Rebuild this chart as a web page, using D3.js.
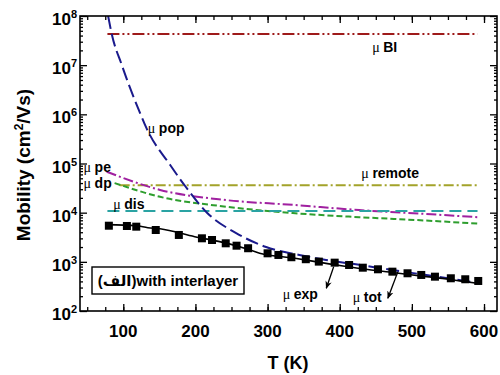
<!DOCTYPE html>
<html>
<head>
<meta charset="utf-8">
<script src="https://cdn.jsdelivr.net/npm/d3@7"></script>
<style>
  body { margin: 0; background: #fff; }
  text { font-family: "Liberation Sans", Arial, "DejaVu Sans", sans-serif; font-weight: bold; fill: #000; }
</style>
</head>
<body>
<div id="chart"></div>
<script>
////////////////////////////// data //////////////////////////////
// experimental points (squares)
var T_exp  = [80,105,118,145,177,209,223,242,257,273,300,315,333,353,371,393,413,432,453,473,494,513,532,554,574,592];
var mu_exp = [5430,5360,5190,4440,3520,3010,2780,2380,2130,1890,1490,1380,1240,1130,1010,962,863,760,705,631,585,541,499,463,442,408];

// total (fit)
var T_tot  = [77,118,134,151,199,243,268,289,338,381,407,428,476,520,545,566,591];
var mu_tot = [5700,5400,4950,4700,3250,2400,1890,1500,1180,930,810,730,600,500,455,410,365];

// polar optical phonon
var T_pop  = [79,84,98,124,132,165,185,216,257,298,344,381,427,473,520,591];
var mu_pop = [1e8,4.3e7,1e7,1e6,5.3e5,9.3e4,3.6e4,1e4,3.8e3,2.0e3,1380,1090,870,680,540,375];

// piezoelectric / deformation potential
var T_pe  = [77,151,243,335,427,520,591];
var mu_pe = [6.8e4,2.9e4,1.8e4,1.44e4,1.13e4,9.4e3,8.1e3];
var T_dp  = [88,151,243,335,427,520,591];
var mu_dp = [4.0e4,2.1e4,1.32e4,9.8e3,8.1e3,6.9e3,6.0e3];

// temperature independent ones
var T_BI = [78,591],  mu_BI = [4.3e7,4.3e7];
var T_rem = [95,591], mu_rem = [3.6e4,3.6e4];
var T_dis = [78,591], mu_dis = [1.08e4,1.08e4];

var xTicks = [100,200,300,400,500,600];
var yTicks = [1e2,1e3,1e4,1e5,1e6,1e7,1e8];

// annotation anchors in data units [T, mu]
var labels = [
  {name:"BI",     T:445, mu:1.85e7},
  {name:"pop",    T:134, mu:4.2e5},
  {name:"remote", T:430, mu:5.1e4},
  {name:"pe",     T:45,  mu:6.7e4},
  {name:"dp",     T:45,  mu:3.2e4},
  {name:"dis",    T:86,  mu:1.19e4},
  {name:"exp",    T:321, mu:176},
  {name:"tot",    T:418, mu:152}
];
var arrows = [
  {T0:391.6, mu0:796, T1:381.4, mu1:290},
  {T0:480.6, mu0:631, T1:466.7, mu1:181}
];

////////////////////////////// setup //////////////////////////////
var W = 500, H = 375;
var pLeft = 80, pRight = 497, pTop = 16, pBottom = 311;

var svg = d3.select("#chart").append("svg")
  .attr("width", W).attr("height", H);

var x = d3.scaleLinear().domain([40, 618]).range([pLeft, pRight]);
var y = d3.scaleLog().domain([1e2, 1e8]).range([pBottom, pTop]);

var defs = svg.append("defs");
defs.append("clipPath").attr("id","clip")
  .append("rect").attr("x",pLeft).attr("y",pTop)
  .attr("width",pRight-pLeft).attr("height",pBottom-pTop);

defs.append("marker")
  .attr("id","arrow").attr("viewBox","0 0 10 10")
  .attr("refX",9).attr("refY",5)
  .attr("markerWidth",8).attr("markerHeight",8)
  .attr("markerUnits","userSpaceOnUse")
  .attr("orient","auto")
  .append("path").attr("d","M0,1 L10,5 L0,9 L3,5 Z").attr("fill","#000");

function zip(a, b) { return a.map(function(d,i){ return [d, b[i]]; }); }

var line = d3.line()
  .x(function(d){ return x(d[0]); })
  .y(function(d){ return y(d[1]); })
  .curve(d3.curveMonotoneX);

var series = [
  {T:T_BI,  mu:mu_BI,  color:"#9e1a1a", dash:"12,3,2,3,2,3", w:2},
  {T:T_rem, mu:mu_rem, color:"#a3a32a", dash:"10,3,2,3", w:2},
  {T:T_pe,  mu:mu_pe,  color:"#a020a0", dash:"10,3,2,3", w:2},
  {T:T_dp,  mu:mu_dp,  color:"#2e9e2e", dash:"6,3", w:2},
  {T:T_dis, mu:mu_dis, color:"#2aa3a3", dash:"12,6", w:2},
  {T:T_pop, mu:mu_pop, color:"#1a1a8c", dash:"13,5", w:2},
  {T:T_tot, mu:mu_tot, color:"#000", dash:null, w:1.6}
];

var plot = svg.append("g").attr("clip-path","url(#clip)");

plot.selectAll(".curve")
  .data(series)
  .enter()
  .append("path")
  .attr("class","curve")
  .attr("d", function(d){ return line(zip(d.T, d.mu)); })
  .attr("fill","none")
  .attr("stroke", function(d){ return d.color; })
  .attr("stroke-width", function(d){ return d.w; })
  .attr("stroke-dasharray", function(d){ return d.dash; });

// squares
plot.selectAll(".sq")
  .data(zip(T_exp, mu_exp))
  .enter()
  .append("rect")
  .attr("class","sq")
  .attr("x", function(d){ return x(d[0]) - 4; })
  .attr("y", function(d){ return y(d[1]) - 4; })
  .attr("width", 8).attr("height", 8)
  .attr("fill","#000");

////////////////////////////// axes //////////////////////////////
var xMinor = d3.range(50, 601, 25);

svg.append("g").attr("transform","translate(0,"+pBottom+")")
  .call(d3.axisBottom(x).tickValues(xMinor).tickSize(-4).tickFormat(""));
svg.append("g").attr("transform","translate(0,"+pBottom+")")
  .call(d3.axisBottom(x).tickValues(xTicks).tickSize(-7).tickFormat(""));
svg.append("g").attr("transform","translate(0,"+pTop+")")
  .call(d3.axisTop(x).tickValues(xMinor).tickSize(-4).tickFormat(""));
svg.append("g").attr("transform","translate(0,"+pTop+")")
  .call(d3.axisTop(x).tickValues(xTicks).tickSize(-7).tickFormat(""));

var yMinor = y.ticks().filter(function(d){ return yTicks.indexOf(d) < 0; });

svg.append("g").attr("transform","translate("+pLeft+",0)")
  .call(d3.axisLeft(y).tickValues(yMinor).tickSize(-3).tickFormat(""));
svg.append("g").attr("transform","translate("+pLeft+",0)")
  .call(d3.axisLeft(y).tickValues(yTicks).tickSize(-7).tickFormat(""));
svg.append("g").attr("transform","translate("+pRight+",0)")
  .call(d3.axisRight(y).tickValues(yMinor).tickSize(-3).tickFormat(""));
svg.append("g").attr("transform","translate("+pRight+",0)")
  .call(d3.axisRight(y).tickValues(yTicks).tickSize(-7).tickFormat(""));

svg.selectAll(".domain").remove();
svg.selectAll(".tick line").attr("stroke","#000").attr("stroke-width",1.3);

svg.append("rect")
  .attr("x",pLeft).attr("y",pTop)
  .attr("width",pRight-pLeft).attr("height",pBottom-pTop)
  .attr("fill","none").attr("stroke","#000").attr("stroke-width",1.6);

// x tick labels
svg.selectAll(".xlab")
  .data(xTicks)
  .enter()
  .append("text")
  .attr("x", function(d){ return x(d); })
  .attr("y", 337)
  .attr("text-anchor","middle")
  .attr("font-size","17px")
  .text(function(d){ return d; });

// y tick labels 10^n
var ylab = svg.selectAll(".ylab")
  .data(yTicks)
  .enter()
  .append("text")
  .attr("x", 77)
  .attr("y", function(d){ return y(d) + 9; })
  .attr("text-anchor","end")
  .attr("font-size","17px");
ylab.append("tspan").text("10");
ylab.append("tspan")
  .attr("font-size","11px")
  .attr("dy", -7)
  .text(function(d){ return Math.round(Math.log10(d)); });

// axis titles
svg.append("text")
  .attr("x", 288).attr("y", 369)
  .attr("text-anchor","middle")
  .attr("font-size","18px")
  .text("T (K)");

var yt = svg.append("text")
  .attr("transform","translate(30,165) rotate(-90)")
  .attr("text-anchor","middle")
  .attr("font-size","19px");
yt.append("tspan").text("Mobility (cm");
yt.append("tspan").attr("font-size","12px").attr("dy",-7).text("2");
yt.append("tspan").attr("dy",7).text("/Vs)");

////////////////////////////// annotations //////////////////////////////
var lab = svg.selectAll(".mulab")
  .data(labels)
  .enter()
  .append("text")
  .attr("x", function(d){ return x(d.T); })
  .attr("y", function(d){ return y(d.mu); })
  .attr("font-size","14px");
lab.append("tspan")
  .style("font-family","'Liberation Serif', serif")
  .style("font-weight","normal")
  .text("\u03bc ");
lab.append("tspan").text(function(d){ return d.name; });

svg.selectAll(".arr")
  .data(arrows)
  .enter()
  .append("line")
  .attr("x1", function(d){ return x(d.T0); })
  .attr("y1", function(d){ return y(d.mu0); })
  .attr("x2", function(d){ return x(d.T1); })
  .attr("y2", function(d){ return y(d.mu1); })
  .attr("stroke","#000").attr("stroke-width",1.3)
  .attr("marker-end","url(#arrow)");

// legend box
svg.append("rect")
  .attr("x",92).attr("y",267).attr("width",152).attr("height",27)
  .attr("fill","#fff").attr("stroke","#000").attr("stroke-width",1.4);
svg.append("text")
  .attr("x",168).attr("y",286)
  .attr("text-anchor","middle")
  .attr("font-size","15px")
  .text("(\u0627\u0644\u0641)with interlayer");
</script>
</body>
</html>
